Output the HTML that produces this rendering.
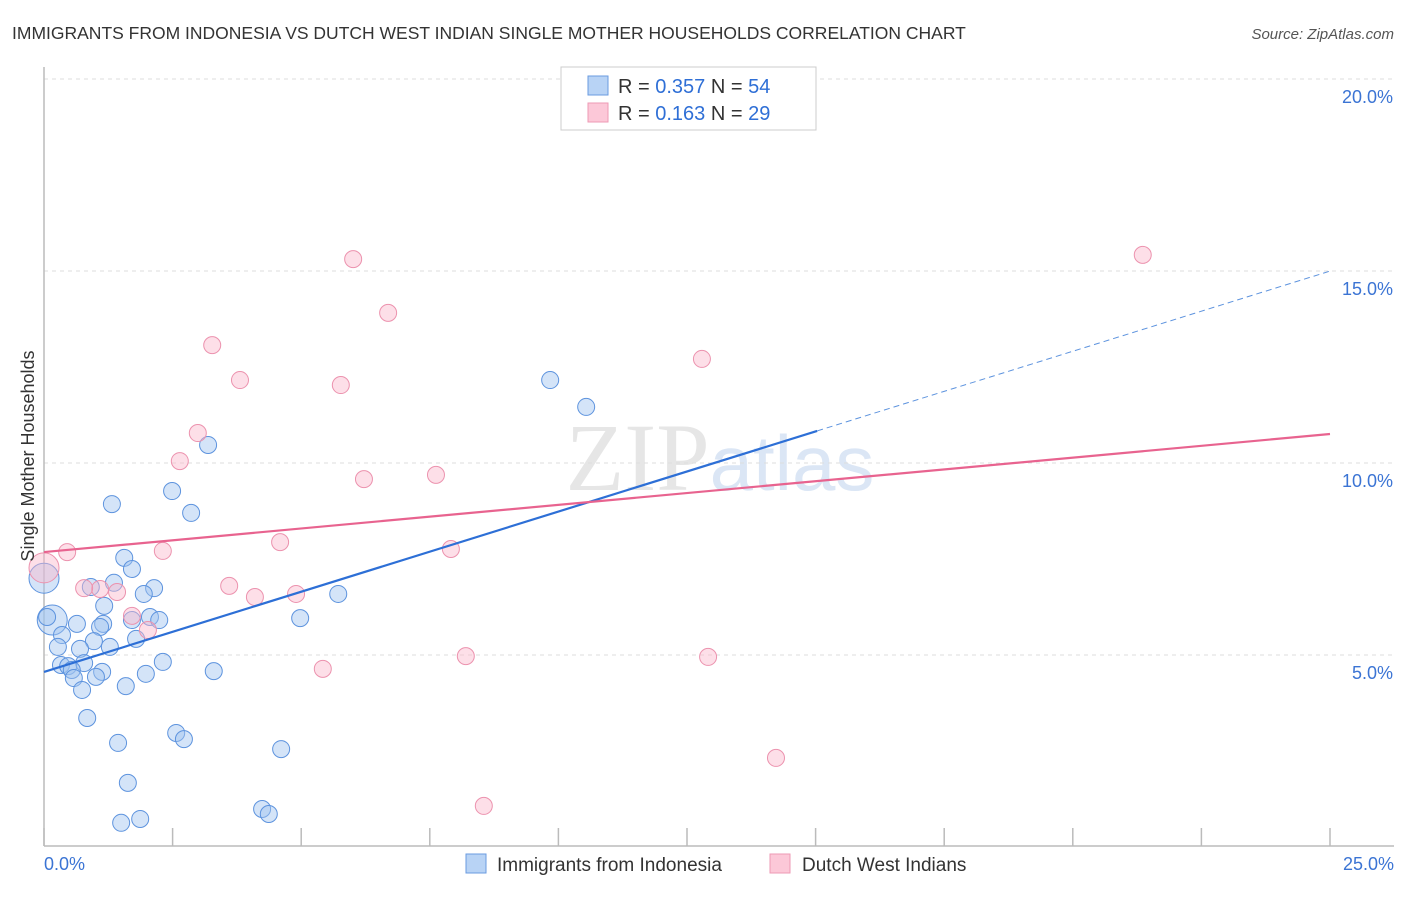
<!DOCTYPE html>
<html><head><meta charset="utf-8"><style>
body{margin:0;background:#fff;font-family:"Liberation Sans",sans-serif;}
</style></head><body>
<svg width="1406" height="892" xmlns="http://www.w3.org/2000/svg" style="font-family:'Liberation Sans',sans-serif">
<text x="12" y="39" font-size="17.5" fill="#333">IMMIGRANTS FROM INDONESIA VS DUTCH WEST INDIAN SINGLE MOTHER HOUSEHOLDS CORRELATION CHART</text>
<text x="1394" y="39" font-size="15" fill="#555" font-style="italic" text-anchor="end">Source: ZipAtlas.com</text>
<text x="720" y="490" font-size="96" fill="#e6e6e6" text-anchor="middle" font-family="Liberation Serif,serif">ZIP<tspan fill="#dbe6f5" font-family="Liberation Sans,sans-serif" font-size="78">atlas</tspan></text>
<g id="grid"></g>
<g id="axes"></g>
<g id="pts"></g>
<g id="lines"></g>
<text x="34" y="456" font-size="18" fill="#333" text-anchor="middle" transform="rotate(-90 34 456)">Single Mother Households</text>
<g>
<rect x="561" y="67" width="255" height="63" fill="#fff" stroke="#ccc"/>
<rect x="588" y="76" width="20" height="19" fill="#b8d3f5" stroke="#6a9be0"/>
<rect x="588" y="103" width="20" height="19" fill="#fcc8d8" stroke="#ee9ab4"/>
<text x="618" y="93" font-size="20" fill="#333">R = <tspan fill="#2f6fd6">0.357</tspan>   N = <tspan fill="#2f6fd6">54</tspan></text>
<text x="618" y="120" font-size="20" fill="#333">R =  <tspan fill="#2f6fd6">0.163</tspan>   N = <tspan fill="#2f6fd6">29</tspan></text>
</g>
<g>
<rect x="466" y="854" width="20" height="19" fill="#b8d3f5" stroke="#6a9be0"/>
<text x="497" y="871" font-size="19" fill="#333">Immigrants from Indonesia</text>
<rect x="770" y="854" width="20" height="19" fill="#fcc8d8" stroke="#ee9ab4"/>
<text x="802" y="871" font-size="19" fill="#333">Dutch West Indians</text>
</g>
</svg>
<script>
const blueX=[3.19,1.32,2.49,2.86,1.56,1.71,1.36,0.91,2.14,1.94,1.17,2.06,2.24,1.71,0.64,1.15,1.09,0.16,0.06,0.35,0.97,1.79,0.27,0.70,1.28,2.31,0.78,0.33,0.47,0.54,1.13,0.58,1.01,1.98,3.30,0.74,1.59,0.84,1.44,2.57,2.72,1.63,1.50,1.87,4.24,4.37,4.61,4.98,5.72,9.84,10.54,0];
const blueY=[10.47,8.93,9.27,8.70,7.53,7.24,6.88,6.77,6.74,6.59,6.28,5.99,5.91,5.91,5.81,5.81,5.73,5.91,5.99,5.52,5.36,5.42,5.21,5.16,5.21,4.82,4.79,4.74,4.71,4.61,4.56,4.40,4.43,4.51,4.58,4.09,4.19,3.36,2.71,2.97,2.81,1.67,0.63,0.73,0.99,0.86,2.55,5.96,6.59,12.16,11.46,7.0];
const blueBig=[17,51];
const pinkX=[0.45,0,1.09,1.71,2.02,2.31,0.78,2.64,2.99,3.27,3.81,3.60,4.10,4.59,4.90,5.42,5.77,6.01,6.22,6.69,7.62,7.91,8.20,8.55,12.79,12.91,14.23,21.36,1.42];
const pinkY=[7.68,7.27,6.72,6.02,5.65,7.71,6.74,10.05,10.78,13.07,12.16,6.80,6.51,7.94,6.59,4.64,12.03,15.31,9.58,13.91,9.69,7.76,4.97,1.07,12.71,4.95,2.32,15.42,6.64];
const pinkBig=[1];
const yTicks=[5,10,15,20];
const yTickLabels=["5.0%","10.0%","15.0%","20.0%"];
const xTicks=[0,2.5,5,7.5,10,12.5,15,17.5,20,22.5,25];
const blueTrend=[4.56,0.4175]; // intercept, slope
const blueSolidEnd=15.03;
const pinkTrend=[7.68,0.123];
const X=v=>44+v/25*1286, Y=v=>847-v*38.4;
const NS="http://www.w3.org/2000/svg";
function mk(p,t,a){const e=document.createElementNS(NS,t);for(const k in a)e.setAttribute(k,a[k]);document.getElementById(p).appendChild(e);return e;}
yTicks.forEach((t,i)=>{
 const l=mk('grid','line',{x1:44,x2:1394,y1:Y(t),y2:Y(t),stroke:'#ddd','stroke-dasharray':'4,4'});
 
 
 const tx=mk('axes','text',{x:1393,y:Y(t)+24,'font-size':18,fill:'#3b74d4','text-anchor':'end'});
 tx.textContent=yTickLabels[i];
 
 
});
const g0=mk('grid','line',{x1:44,x2:1394,y1:Y(20),y2:Y(20),stroke:'#ddd','stroke-dasharray':'4,4'});
const ax=mk('axes','line',{x1:44,x2:44,y1:67,y2:846,stroke:'#bbb','stroke-width':1.5});


const bx=mk('axes','line',{x1:44,x2:1394,y1:846,y2:846,stroke:'#bbb','stroke-width':1.5});


xTicks.forEach(t=>{const l=mk('axes','line',{x1:X(t),x2:X(t),y1:828,y2:846,stroke:'#bbb','stroke-width':1.5});
 
 });
const x0=mk('axes','text',{x:44,y:870,'font-size':18,fill:'#3b74d4'});x0.textContent="0.0%";


const x1=mk('axes','text',{x:1394,y:870,'font-size':18,fill:'#3b74d4','text-anchor':'end'});x1.textContent="25.0%";


blueX.forEach((v,i)=>{const c=mk('pts','circle',{cx:X(v),cy:Y(blueY[i]),r:blueBig.includes(i)?15:8.5,fill:'rgba(160,195,240,0.45)',stroke:'#5d93de','stroke-width':1});
 
 });
pinkX.forEach((v,i)=>{const c=mk('pts','circle',{cx:X(v),cy:Y(pinkY[i]),r:pinkBig.includes(i)?15:8.5,fill:'rgba(250,185,205,0.45)',stroke:'#ec92ae','stroke-width':1});
 
 });
const bl=mk('lines','line',{x1:X(0),y1:Y(blueTrend[0]),x2:X(blueSolidEnd),y2:Y(blueTrend[0]+blueTrend[1]*blueSolidEnd),stroke:'#2d6fd6','stroke-width':2.2});


const bd=mk('lines','line',{x1:X(blueSolidEnd),y1:Y(blueTrend[0]+blueTrend[1]*blueSolidEnd),x2:X(25),y2:Y(blueTrend[0]+blueTrend[1]*25),stroke:'#5d93de','stroke-width':1,'stroke-dasharray':'6,4'});


const pl=mk('lines','line',{x1:X(0),y1:Y(pinkTrend[0]),x2:X(25),y2:Y(pinkTrend[0]+pinkTrend[1]*25),stroke:'#e8638f','stroke-width':2.2});


</script>
</body></html>
